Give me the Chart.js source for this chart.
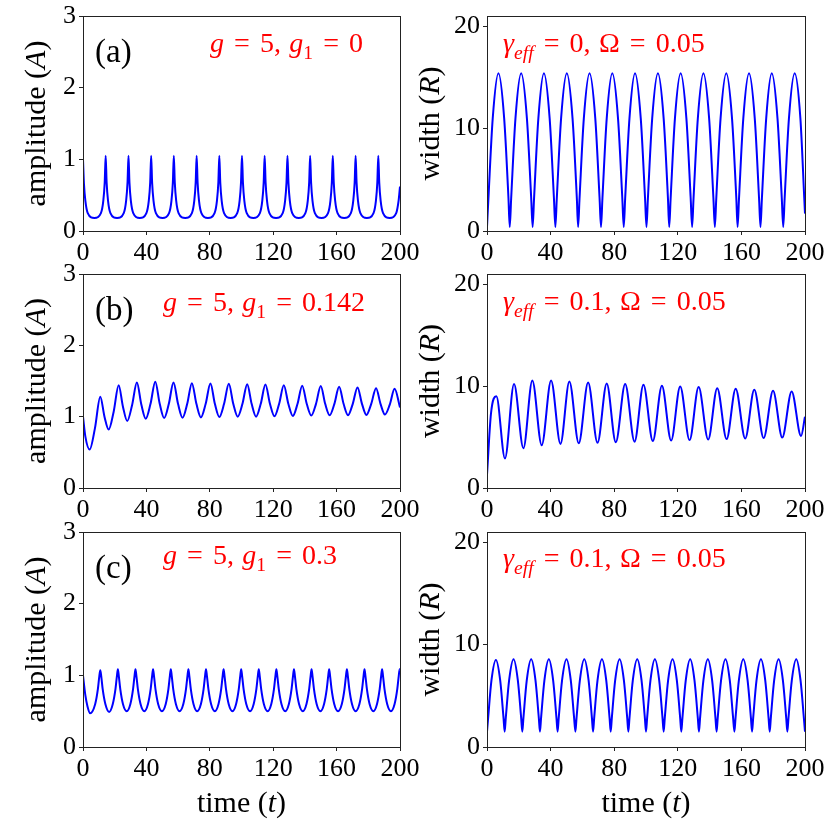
<!DOCTYPE html>
<html>
<head>
<meta charset="utf-8">
<script src="https://cdn.jsdelivr.net/npm/chart.js@4.4.1/dist/chart.umd.min.js"></script>
<style>
html,body{margin:0;padding:0;background:#fff;overflow:hidden;width:830px;height:830px;position:relative}
canvas{position:absolute}
</style>
</head>
<body>
<script>
// ---------------- data ----------------
const xTicks = [0, 40, 80, 120, 160, 200];
const ampTicks = [0, 1, 2, 3];
const widthTicks = [0, 10, 20];

// (a) amplitude, g = 5, g1 = 0
const timeA1 = [0, 0.6, 1.5, 3.0, 7.2,
  11.3, 12.8, 13.7, 14.3, 14.9, 15.8, 17.3, 21.5,
  25.7, 27.2, 28.1, 28.7, 29.3, 30.2, 31.7, 35.8,
  40.0, 41.5, 42.4, 43.0, 43.6, 44.5, 46.0, 50.2,
  54.3, 55.8, 56.7, 57.3, 57.9, 58.8, 60.3, 64.5,
  68.7, 70.2, 71.1, 71.7, 72.3, 73.2, 74.7, 78.8,
  83.0, 84.5, 85.4, 86.0, 86.6, 87.5, 89.0, 93.1,
  97.3, 98.8, 99.7, 100.3, 100.9, 101.8, 103.3, 107.5,
  111.6, 113.1, 114.0, 114.6, 115.2, 116.1, 117.6, 121.8,
  126.0, 127.5, 128.4, 129.0, 129.6, 130.5, 132.0, 136.1,
  140.3, 141.8, 142.7, 143.3, 143.9, 144.8, 146.3, 150.5,
  154.6, 156.1, 157.0, 157.6, 158.2, 159.1, 160.6, 164.8,
  169.0, 170.5, 171.4, 172.0, 172.6, 173.5, 175.0, 179.1,
  183.3, 184.8, 185.7, 186.3, 186.9, 187.8, 189.3, 193.5,
  197.6, 199.1, 200];
const ampA1 = [1.00, 0.66, 0.42, 0.25, 0.18,
  0.25, 0.42, 0.68, 1.05, 0.68, 0.42, 0.25, 0.18,
  0.25, 0.42, 0.68, 1.05, 0.68, 0.42, 0.25, 0.18,
  0.25, 0.42, 0.68, 1.05, 0.68, 0.42, 0.25, 0.18,
  0.25, 0.42, 0.68, 1.05, 0.68, 0.42, 0.25, 0.18,
  0.25, 0.42, 0.68, 1.05, 0.68, 0.42, 0.25, 0.18,
  0.25, 0.42, 0.68, 1.05, 0.68, 0.42, 0.25, 0.18,
  0.25, 0.42, 0.68, 1.05, 0.68, 0.42, 0.25, 0.18,
  0.25, 0.42, 0.68, 1.05, 0.68, 0.42, 0.25, 0.18,
  0.25, 0.42, 0.68, 1.05, 0.68, 0.42, 0.25, 0.18,
  0.25, 0.42, 0.68, 1.05, 0.68, 0.42, 0.25, 0.18,
  0.25, 0.42, 0.68, 1.05, 0.68, 0.42, 0.25, 0.18,
  0.25, 0.42, 0.68, 1.05, 0.68, 0.42, 0.25, 0.18,
  0.25, 0.42, 0.68, 1.05, 0.68, 0.42, 0.25, 0.18,
  0.25, 0.42, 0.62];

// width, gamma_eff = 0, Omega = 0.05
const timeR1 = [0, 0.9, 3.6, 7.2, 10.8, 13.5,
  14.3, 15.2, 17.9, 21.5, 25.1, 27.8,
  28.7, 29.6, 32.3, 35.8, 39.4, 42.1,
  43.0, 43.9, 46.6, 50.2, 53.8, 56.5,
  57.3, 58.2, 60.9, 64.5, 68.1, 70.8,
  71.7, 72.6, 75.3, 78.8, 82.4, 85.1,
  86.0, 86.9, 89.6, 93.1, 96.7, 99.4,
  100.3, 101.2, 103.9, 107.5, 111.1, 113.8,
  114.6, 115.5, 118.2, 121.8, 125.4, 128.1,
  129.0, 129.9, 132.6, 136.1, 139.7, 142.4,
  143.3, 144.2, 146.9, 150.5, 154.1, 156.8,
  157.6, 158.5, 161.2, 164.8, 168.4, 171.1,
  172.0, 172.9, 175.6, 179.1, 182.7, 185.4,
  186.3, 187.2, 189.9, 193.5, 197.1, 199.6, 200];
const widR1 = [0.4, 3.2, 11.0, 15.4, 11.0, 3.2,
  0.4, 3.2, 11.0, 15.4, 11.0, 3.2,
  0.4, 3.2, 11.0, 15.4, 11.0, 3.2,
  0.4, 3.2, 11.0, 15.4, 11.0, 3.2,
  0.4, 3.2, 11.0, 15.4, 11.0, 3.2,
  0.4, 3.2, 11.0, 15.4, 11.0, 3.2,
  0.4, 3.2, 11.0, 15.4, 11.0, 3.2,
  0.4, 3.2, 11.0, 15.4, 11.0, 3.2,
  0.4, 3.2, 11.0, 15.4, 11.0, 3.2,
  0.4, 3.2, 11.0, 15.4, 11.0, 3.2,
  0.4, 3.2, 11.0, 15.4, 11.0, 3.2,
  0.4, 3.2, 11.0, 15.4, 11.0, 3.2,
  0.4, 3.2, 11.0, 15.4, 11.0, 3.2,
  0.4, 3.2, 11.0, 15.4, 11.0, 3.0, 1.7];

// (b) amplitude, g = 5, g1 = 0.142
const timeA2 = [0, 1.5, 4.2, 7.55, 10.9, 13.55, 16.2, 19.35, 22.5, 25.2, 27.9, 30.95,
  34.0, 36.8, 39.6, 42.6, 45.6, 48.4, 51.2, 54.15, 57.1, 59.95, 62.8, 65.75,
  68.7, 71.55, 74.4, 77.4, 80.4, 83.2, 86.0, 89.0, 92.0, 94.8, 97.6, 100.6,
  103.6, 106.4, 109.2, 112.15, 115.1, 117.95, 120.8, 123.75, 126.7, 129.55, 132.4, 135.35,
  138.3, 141.15, 144.0, 147.0, 150.0, 152.8, 155.6, 158.6, 161.6, 164.4, 167.2, 170.2,
  173.2, 176.0, 178.8, 181.85, 184.9, 187.7, 190.5, 193.55, 196.6, 200];
const ampA2 = [1.00, 0.72, 0.54, 0.84, 1.28, 1.00, 0.82, 1.07, 1.44, 1.14, 0.94, 1.16,
  1.48, 1.17, 0.97, 1.18, 1.49, 1.18, 0.98, 1.18, 1.48, 1.18, 0.985, 1.18,
  1.47, 1.18, 0.99, 1.18, 1.465, 1.18, 0.995, 1.18, 1.46, 1.18, 1.00, 1.18,
  1.455, 1.18, 1.00, 1.18, 1.45, 1.18, 1.005, 1.18, 1.44, 1.18, 1.01, 1.18,
  1.435, 1.18, 1.015, 1.18, 1.43, 1.18, 1.02, 1.18, 1.42, 1.18, 1.02, 1.18,
  1.41, 1.18, 1.025, 1.18, 1.40, 1.18, 1.03, 1.17, 1.39, 1.13];

// width, gamma_eff = 0.1, Omega = 0.05 (middle)
const timeR2 = [0, 2.5, 5.9, 11.3, 17.0, 22.9, 28.5, 34.4, 40.3, 46.2, 51.8, 57.7,
  63.6, 69.5, 75.3, 81.0, 86.9, 92.8, 98.4, 104.3, 110.0, 115.8, 121.5, 127.4,
  133.1, 139.1, 144.8, 150.7, 156.4, 162.4, 168.1, 174.0, 179.9, 185.7, 191.6, 197.5, 200];
const widR2 = [1.3, 7.3, 9.0, 2.9, 10.2, 3.9, 10.55, 4.2, 10.55, 4.33, 10.45, 4.39,
  10.35, 4.43, 10.26, 4.49, 10.2, 4.55, 10.13, 4.6, 10.03, 4.65, 9.97, 4.7,
  9.9, 4.75, 9.8, 4.8, 9.74, 4.85, 9.64, 4.9, 9.54, 4.95, 9.48, 5.1, 7.0];

// (c) amplitude, g = 5, g1 = 0.3
const timeA3 = [0, 0.6, 1.5, 2.8, 4.5,
  7.7, 9.4, 10.3, 10.9, 11.5, 12.4, 14.1, 16.5,
  18.8, 20.5, 21.4, 22.0, 22.6, 23.5, 25.2, 27.6,
  29.9, 31.6, 32.5, 33.1, 33.7, 34.6, 36.3, 38.7,
  41.0, 42.7, 43.6, 44.2, 44.8, 45.7, 47.4, 49.8,
  52.2, 53.9, 54.8, 55.4, 56.0, 56.9, 58.6, 60.9,
  63.3, 65.0, 65.9, 66.5, 67.1, 68.0, 69.7, 72.0,
  74.4, 76.1, 77.0, 77.6, 78.2, 79.1, 80.8, 83.2,
  85.5, 87.2, 88.1, 88.7, 89.3, 90.2, 91.9, 94.3,
  96.6, 98.3, 99.2, 99.8, 100.4, 101.3, 103.0, 105.4,
  107.7, 109.4, 110.3, 110.9, 111.5, 112.4, 114.1, 116.5,
  118.8, 120.5, 121.4, 122.0, 122.6, 123.5, 125.2, 127.6,
  129.9, 131.6, 132.5, 133.1, 133.7, 134.6, 136.3, 138.7,
  141.0, 142.7, 143.6, 144.2, 144.8, 145.7, 147.4, 149.8,
  152.1, 153.8, 154.7, 155.3, 155.9, 156.8, 158.5, 160.9,
  163.3, 165.0, 165.9, 166.5, 167.1, 168.0, 169.7, 172.0,
  174.4, 176.1, 177.0, 177.6, 178.2, 179.1, 180.8, 183.2,
  185.5, 187.2, 188.1, 188.7, 189.3, 190.2, 191.9, 194.3,
  196.6, 198.3, 199.2, 199.8, 200];
const ampA3 = [1.00, 0.88, 0.72, 0.57, 0.47,
  0.60, 0.81, 0.99, 1.07, 0.99, 0.81, 0.60, 0.49,
  0.60, 0.81, 0.99, 1.085, 0.99, 0.81, 0.60, 0.50,
  0.60, 0.81, 0.99, 1.085, 0.99, 0.81, 0.60, 0.50,
  0.60, 0.81, 0.99, 1.085, 0.99, 0.81, 0.60, 0.50,
  0.60, 0.81, 0.99, 1.085, 0.99, 0.81, 0.60, 0.50,
  0.60, 0.81, 0.99, 1.085, 0.99, 0.81, 0.60, 0.50,
  0.60, 0.81, 0.99, 1.085, 0.99, 0.81, 0.60, 0.50,
  0.60, 0.81, 0.99, 1.085, 0.99, 0.81, 0.60, 0.50,
  0.60, 0.81, 0.99, 1.085, 0.99, 0.81, 0.60, 0.50,
  0.60, 0.81, 0.99, 1.085, 0.99, 0.81, 0.60, 0.50,
  0.60, 0.81, 0.99, 1.085, 0.99, 0.81, 0.60, 0.50,
  0.60, 0.81, 0.99, 1.085, 0.99, 0.81, 0.60, 0.50,
  0.60, 0.81, 0.99, 1.085, 0.99, 0.81, 0.60, 0.50,
  0.60, 0.81, 0.99, 1.085, 0.99, 0.81, 0.60, 0.50,
  0.60, 0.81, 0.99, 1.085, 0.99, 0.81, 0.60, 0.50,
  0.60, 0.81, 0.99, 1.085, 0.99, 0.81, 0.60, 0.50,
  0.60, 0.81, 0.99, 1.085, 0.99, 0.81, 0.60, 0.50,
  0.60, 0.81, 0.99, 1.085, 1.08];

// width, gamma_eff = 0.1, Omega = 0.05 (bottom)
const timeR3 = [0, 0.7, 2.8, 5.6, 8.3, 10.4,
  11.1, 11.8, 13.9, 16.7, 19.4, 21.5,
  22.2, 22.9, 25.0, 27.8, 30.5, 32.6,
  33.3, 34.0, 36.1, 38.9, 41.6, 43.7,
  44.4, 45.1, 47.2, 50.0, 52.7, 54.8,
  55.6, 56.3, 58.4, 61.2, 63.9, 66.0,
  66.7, 67.4, 69.5, 72.3, 75.0, 77.1,
  77.8, 78.5, 80.6, 83.4, 86.1, 88.2,
  88.9, 89.6, 91.7, 94.5, 97.2, 99.3,
  100.0, 100.7, 102.8, 105.6, 108.3, 110.4,
  111.1, 111.8, 113.9, 116.7, 119.4, 121.5,
  122.2, 122.9, 125.0, 127.8, 130.5, 132.6,
  133.3, 134.0, 136.1, 138.9, 141.6, 143.7,
  144.4, 145.1, 147.2, 150.0, 152.7, 154.8,
  155.6, 156.3, 158.4, 161.2, 163.9, 166.0,
  166.7, 167.4, 169.5, 172.3, 175.0, 177.1,
  177.8, 178.5, 180.6, 183.4, 186.1, 188.2,
  188.9, 189.6, 191.7, 194.5, 197.2, 199.3,
  200];
const widR3 = [1.5, 2.82, 6.5, 8.5, 6.5, 2.82,
  1.5, 2.82, 6.5, 8.57, 6.5, 2.82,
  1.5, 2.82, 6.5, 8.57, 6.5, 2.82,
  1.5, 2.82, 6.5, 8.57, 6.5, 2.82,
  1.5, 2.82, 6.5, 8.57, 6.5, 2.82,
  1.5, 2.82, 6.5, 8.57, 6.5, 2.82,
  1.5, 2.82, 6.5, 8.57, 6.5, 2.82,
  1.5, 2.82, 6.5, 8.57, 6.5, 2.82,
  1.5, 2.82, 6.5, 8.57, 6.5, 2.82,
  1.5, 2.82, 6.5, 8.57, 6.5, 2.82,
  1.5, 2.82, 6.5, 8.57, 6.5, 2.82,
  1.5, 2.82, 6.5, 8.57, 6.5, 2.82,
  1.5, 2.82, 6.5, 8.57, 6.5, 2.82,
  1.5, 2.82, 6.5, 8.57, 6.5, 2.82,
  1.5, 2.82, 6.5, 8.57, 6.5, 2.82,
  1.5, 2.82, 6.5, 8.57, 6.5, 2.82,
  1.5, 2.82, 6.5, 8.57, 6.5, 2.82,
  1.5, 2.82, 6.5, 8.57, 6.5, 2.82,
  1.5];

// ---------------- texts ----------------
const G = 0.36; // em gap around relation signs
const C = 0.3;  // em gap after comma
const ampTitle = [['amplitude (', 'r'], ['A', 'i'], [')', 'r']];
const widTitle = [['width (', 'r'], ['R', 'i'], [')', 'r']];
const timeTitle = [['time (', 'r'], ['t', 'i'], [')', 'r']];
const noteA1 = [['g', 'i'], G, ['=', 'r'], G, ['5,', 'r'], C, ['g', 'i'], ['1', 's'], G, ['=', 'r'], G, ['0', 'r']];
const noteA2 = [['g', 'i'], G, ['=', 'r'], G, ['5,', 'r'], C, ['g', 'i'], ['1', 's'], G, ['=', 'r'], G, ['0.142', 'r']];
const noteA3 = [['g', 'i'], G, ['=', 'r'], G, ['5,', 'r'], C, ['g', 'i'], ['1', 's'], G, ['=', 'r'], G, ['0.3', 'r']];
const noteR1 = [['\u03B3', 'i'], ['eff', 'si'], G, ['=', 'r'], G, ['0,', 'r'], C, ['\u03A9', 'r'], G, ['=', 'r'], G, ['0.05', 'r']];
const noteR2 = [['\u03B3', 'i'], ['eff', 'si'], G, ['=', 'r'], G, ['0.1,', 'r'], C, ['\u03A9', 'r'], G, ['=', 'r'], G, ['0.05', 'r']];

// ---------------- layout ----------------
const SERIF = '"Liberation Serif", "Times New Roman", serif';
const cols = [
  { plotLeft: 83, plotRight: 400, canvasLeft: 0, canvasRight: 440, titleOff: 38 },
  { plotLeft: 487, plotRight: 805, canvasLeft: 415, canvasRight: 860, titleOff: 48 }
];
const rows = [
  { top: 16, bottom: 231, extra: 45 },
  { top: 274, bottom: 488, extra: 45 },
  { top: 532, bottom: 747, extra: 83 }
];
const PAD_T = 20;

function drawRich(ctx, parts, x, y, size, color, align) {
  const fonts = {
    r: size + 'px ' + SERIF,
    i: 'italic ' + size + 'px ' + SERIF,
    s: (size * 0.7) + 'px ' + SERIF,
    si: 'italic ' + (size * 0.7) + 'px ' + SERIF
  };
  let w = 0;
  const items = parts.map(p => {
    if (typeof p === 'number') { const g = p * size; w += g; return { gap: g }; }
    ctx.font = fonts[p[1]];
    const mw = ctx.measureText(p[0]).width;
    w += mw;
    return { text: p[0], style: p[1], w: mw };
  });
  let cx = align === 'center' ? x - w / 2 : x;
  ctx.fillStyle = color;
  ctx.textBaseline = 'alphabetic';
  ctx.textAlign = 'left';
  items.forEach(it => {
    if (it.gap !== undefined) { cx += it.gap; return; }
    ctx.font = fonts[it.style];
    const dy = (it.style === 's' || it.style === 'si') ? size * 0.24 : 0;
    ctx.fillText(it.text, cx, y + dy);
    cx += it.w;
  });
}

const decor = {
  id: 'decor',
  afterDraw(chart, args, o) {
    const ctx = chart.ctx, a = chart.chartArea;
    ctx.save();
    ctx.strokeStyle = '#222';
    ctx.lineWidth = 1;
    ctx.strokeRect(Math.round(a.left) + 0.5, Math.round(a.top) + 0.5,
      Math.round(a.right - a.left), Math.round(a.bottom - a.top));
    if (o.label) drawRich(ctx, [[o.label, 'r']], a.left + 12, a.top + 46, 33, '#000', 'left');
    drawRich(ctx, o.note, a.left + o.noteDx, a.top + o.noteDy, 28, '#ff0000', 'left');
    ctx.save();
    ctx.translate(a.left - o.titleOff, (a.top + a.bottom) / 2);
    ctx.rotate(-Math.PI / 2);
    drawRich(ctx, o.ytitle, 0, 0, 30, '#000', 'center');
    ctx.restore();
    if (o.xtitle) drawRich(ctx, o.xtitle, (a.left + a.right) / 2, a.bottom + 65, 30, '#000', 'center');
    ctx.restore();
  }
};

const panels = [
  { col: 0, row: 0, t: timeA1, v: ampA1, ymax: 3, yt: ampTicks, ytitle: ampTitle, label: '(a)', note: noteA1, noteDx: 127, noteDy: 36 },
  { col: 1, row: 0, t: timeR1, v: widR1, ymax: 21, yt: widthTicks, ytitle: widTitle, note: noteR1, noteDx: 16, noteDy: 36 },
  { col: 0, row: 1, t: timeA2, v: ampA2, ymax: 3, yt: ampTicks, ytitle: ampTitle, label: '(b)', note: noteA2, noteDx: 80, noteDy: 37 },
  { col: 1, row: 1, t: timeR2, v: widR2, ymax: 21, yt: widthTicks, ytitle: widTitle, note: noteR2, noteDx: 16, noteDy: 36 },
  { col: 0, row: 2, t: timeA3, v: ampA3, ymax: 3, yt: ampTicks, ytitle: ampTitle, label: '(c)', note: noteA3, noteDx: 80, noteDy: 32, xtitle: timeTitle },
  { col: 1, row: 2, t: timeR3, v: widR3, ymax: 21, yt: widthTicks, ytitle: widTitle, note: noteR2, noteDx: 16, noteDy: 35, xtitle: timeTitle }
];

panels.forEach(p => {
  const c = cols[p.col], r = rows[p.row];
  const L = c.plotLeft - c.canvasLeft;
  const W = c.canvasRight - c.canvasLeft;
  const H = PAD_T + (r.bottom - r.top) + r.extra;
  const cv = document.createElement('canvas');
  cv.width = W; cv.height = H;
  cv.style.left = c.canvasLeft + 'px';
  cv.style.top = (r.top - PAD_T) + 'px';
  cv.style.width = W + 'px'; cv.style.height = H + 'px';
  document.body.appendChild(cv);
  const tickFont = { family: SERIF, size: 26 };
  new Chart(cv, {
    type: 'line',
    data: {
      datasets: [{
        data: p.t.map((x, i) => ({ x: x, y: p.v[i] })),
        borderColor: '#0000ff',
        borderWidth: 2,
        pointRadius: 0,
        fill: false,
        cubicInterpolationMode: 'monotone'
      }]
    },
    options: {
      responsive: false,
      animation: false,
      devicePixelRatio: 1,
      layout: { padding: { top: PAD_T, right: c.canvasRight - c.plotRight, left: 0, bottom: 0 } },
      plugins: {
        legend: { display: false },
        tooltip: { enabled: false },
        decor: { label: p.label, note: p.note, noteDx: p.noteDx, noteDy: p.noteDy, ytitle: p.ytitle, titleOff: c.titleOff, xtitle: p.xtitle }
      },
      scales: {
        x: {
          type: 'linear', min: 0, max: 200,
          afterBuildTicks: s => { s.ticks = xTicks.map(v => ({ value: v })); },
          afterFit: s => { s.height = r.extra; },
          border: { display: false },
          grid: { drawOnChartArea: false, drawTicks: true, tickLength: 4, color: '#222' },
          ticks: { font: tickFont, color: '#000', padding: 3, maxRotation: 0, autoSkip: false }
        },
        y: {
          type: 'linear', min: 0, max: p.ymax,
          afterBuildTicks: s => { s.ticks = p.yt.map(v => ({ value: v })); },
          afterFit: s => { s.width = L; },
          border: { display: false },
          grid: { drawOnChartArea: false, drawTicks: true, tickLength: 4, color: '#222' },
          ticks: { font: tickFont, color: '#000', padding: 3, autoSkip: false }
        }
      }
    },
    plugins: [decor]
  });
});
</script>
</body>
</html>
